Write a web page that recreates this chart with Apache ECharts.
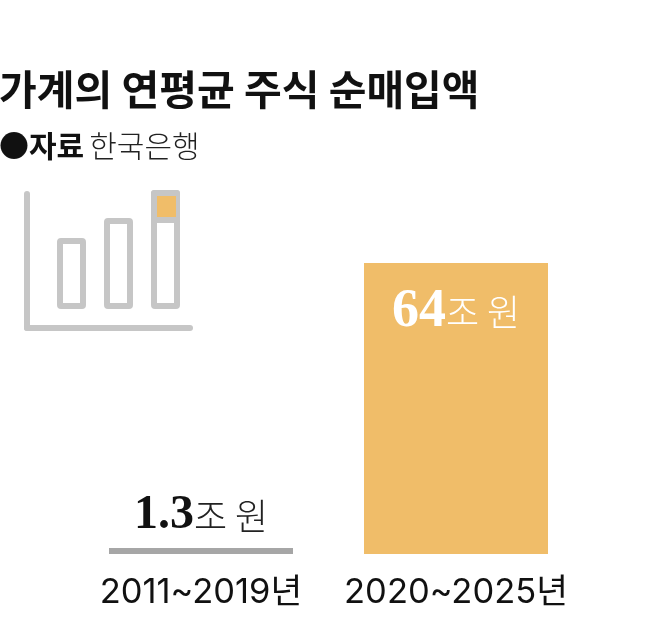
<!DOCTYPE html>
<html><head><meta charset="utf-8">
<style>html,body{margin:0;padding:0;background:#fff}#c{width:658px;height:631px}</style>
<script src="https://cdn.jsdelivr.net/npm/echarts@6/dist/echarts.min.js"></script></head>
<body><div id="c"></div>
<script>
const categories = ['2011~2019년', '2020~2025년'];
const values = [1.3, 64];
const valueLabels = ['1.3', '64'];
const unitLabel = '조 원';
const barColors = ['#A6A6A6', '#F0BD69'];
const titleText = '가계의 연평균 주식 순매입액';
const sourceKey = '●자료';
const sourceValue = '한국은행';
const KR = '"Noto Sans CJK KR"';
const chart = echarts.init(document.getElementById('c'), null, {renderer:'canvas'});
const iconGray = '#C6C6C6';
function outlined(x,y,w,h){return {type:'rect',shape:{x:x,y:y,width:w,height:h,r:1},style:{fill:'#fff',stroke:iconGray,lineWidth:6,lineJoin:'round'}};}
chart.setOption({
  animation:false,
  backgroundColor:'#fff',
  title:[
    {text:titleText,left:-6,top:55,textStyle:{fontFamily:KR,fontWeight:700,fontSize:41,color:'#111',lineHeight:58}},
    {text:'{k|'+sourceKey+'} {v|'+sourceValue+'}',left:-6,top:121,textStyle:{rich:{
      k:{fontFamily:KR,fontWeight:700,fontSize:30,color:'#111',lineHeight:40},
      v:{fontFamily:KR,fontWeight:300,fontSize:30,color:'#222',lineHeight:40}}}}
  ],
  grid:{left:73.5,width:510,top:263,height:291,containLabel:false},
  xAxis:{type:'category',data:categories,axisLine:{show:false},axisTick:{show:false},
    axisLabel:{interval:0,margin:21,fontFamily:'Inter, '+KR,fontWeight:400,fontSize:34.5,color:'#111'}},
  yAxis:{type:'value',min:0,max:64,show:false},
  series:[{type:'bar',barWidth:184,
    data:values.map((v,i)=>({value:v,itemStyle:{color:barColors[i]},
      label:{position:i===0?'top':'insideTop',distance:i===0?8:22,
        formatter:'{n'+i+'|'+valueLabels[i]+'}{u'+i+'|'+unitLabel+'}',
        rich:{
          n0:{fontFamily:'"Liberation Serif"',fontWeight:700,fontSize:48,color:'#111'},
          u0:{fontFamily:KR,fontWeight:300,fontSize:36,color:'#222'},
          n1:{fontFamily:'"Liberation Serif"',fontWeight:700,fontSize:54,color:'#fff'},
          u1:{fontFamily:KR,fontWeight:300,fontSize:36,color:'#fff'}
        }}})),
    label:{show:true}
  }],
  graphic:[
    {type:'line',shape:{x1:27,y1:194,x2:27,y2:328},style:{stroke:iconGray,lineWidth:6,lineCap:'round'}},
    {type:'line',shape:{x1:27,y1:328,x2:190,y2:328},style:{stroke:iconGray,lineWidth:6,lineCap:'round'}},
    outlined(60,241,23,65),
    outlined(107,221,23,85),
    outlined(154,193,23,113),
    {type:'rect',shape:{x:154,y:193,width:23,height:27},style:{fill:'#C4C6C7',stroke:iconGray,lineWidth:6,lineJoin:'round'}},
    {type:'rect',shape:{x:157,y:196,width:19,height:21},style:{fill:'#F0BD69'}}
  ]
});
</script></body></html>
